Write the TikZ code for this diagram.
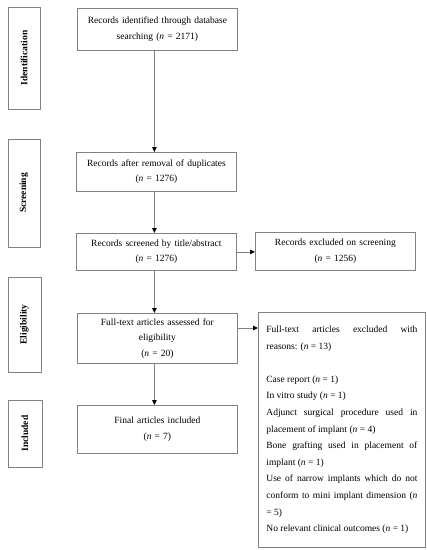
\documentclass[tikz,border=0pt]{standalone}
\usepackage{fontspec}
\setmainfont{Liberation Serif}
\usetikzlibrary{arrows.meta}
\definecolor{linegray}{RGB}{130,130,130}
\newcommand{\mainfs}{\fontsize{9.5}{15.5}\selectfont}
\newcommand{\exclfs}{\fontsize{9.5}{16.6}\selectfont}
\begin{document}
\begin{tikzpicture}[x=1pt,y=-1pt,
  box/.style={draw=linegray, line width=0.8pt, inner xsep=4pt, inner ysep=0pt,
    anchor=north west, align=center, font=\mainfs, text width=152pt},
  sidebox/.style={draw=linegray, line width=0.8pt, rotate=90, inner sep=0pt,
    font=\mainfs\bfseries, anchor=center},
  arr/.style={draw=linegray, line width=0.8pt,
    -{Triangle[width=4.5pt,length=5pt,color=black]}}
]
\useasboundingbox (0,0) rectangle (427,550);
% side labels
\node[sidebox, minimum width=102pt, minimum height=32pt] (sid) at (24,58) {Identification};
\node[sidebox, minimum width=108pt, minimum height=32pt] (sscr) at (24,193) {Screening};
\node[sidebox, minimum width=95pt, minimum height=33pt] (selig) at (24.5,324.5) {Eligibility};
\node[sidebox, minimum width=67pt, minimum height=34pt] (sinc) at (25,433.5) {Included};
% main boxes
\node[box, minimum height=42pt] (b1) at (77,8) {Records identified through database\\searching (\textit{n} = 2171)};
\node[box, minimum height=39pt] (b2) at (76,152) {Records after removal of duplicates\\(\textit{n} = 1276)};
\node[box, minimum height=37pt] (b3) at (76,233) {Records screened by title/abstract\\(\textit{n} = 1276)};
\node[box, minimum height=38pt] (e1) at (255,232) {Records excluded on screening\\(\textit{n} = 1256)};
\node[box, minimum height=50pt] (b4) at (77,313) {Full-text articles assessed for\\eligibility\\(\textit{n} = 20)};
\node[box, minimum height=48pt] (b5) at (77,405) {Final articles included\\(\textit{n} = 7)\\[6pt]};
\node[box, minimum height=235pt, inner xsep=8pt, text width=151pt, align=justify, font=\exclfs] (e2) at (258,312)
  {Full-text articles excluded with\linebreak reasons: (\textit{n} = 13)\par
   \mbox{}\par
   Case report (\textit{n} = 1)\par
   In vitro study (\textit{n} = 1)\par
   Adjunct surgical procedure used in\linebreak placement of implant (\textit{n} = 4)\par
   Bone grafting used in placement of\linebreak implant (\textit{n} = 1)\par
   Use of narrow implants which do not\linebreak conform to mini implant dimension (\textit{n}\linebreak = 5)\par
   No relevant clinical outcomes (\textit{n} = 1)};
% connectors
\draw[arr] ([xshift=-3pt]b1.south) -- ([xshift=-2pt]b2.north);
\draw[arr] ([xshift=-2pt]b2.south) -- ([xshift=-2pt]b3.north);
\draw[arr] ([xshift=-2pt]b3.south) -- ([xshift=-3pt]b4.north);
\draw[arr] ([xshift=-3pt]b4.south) -- ([xshift=-3pt]b5.north);
\draw[arr] (b3.east) -- (e1.west |- b3.east);
\draw[arr] ([yshift=-15pt]b4.north east) -- ([yshift=-15pt]b4.north east -| e2.west);
\end{tikzpicture}
\end{document}
